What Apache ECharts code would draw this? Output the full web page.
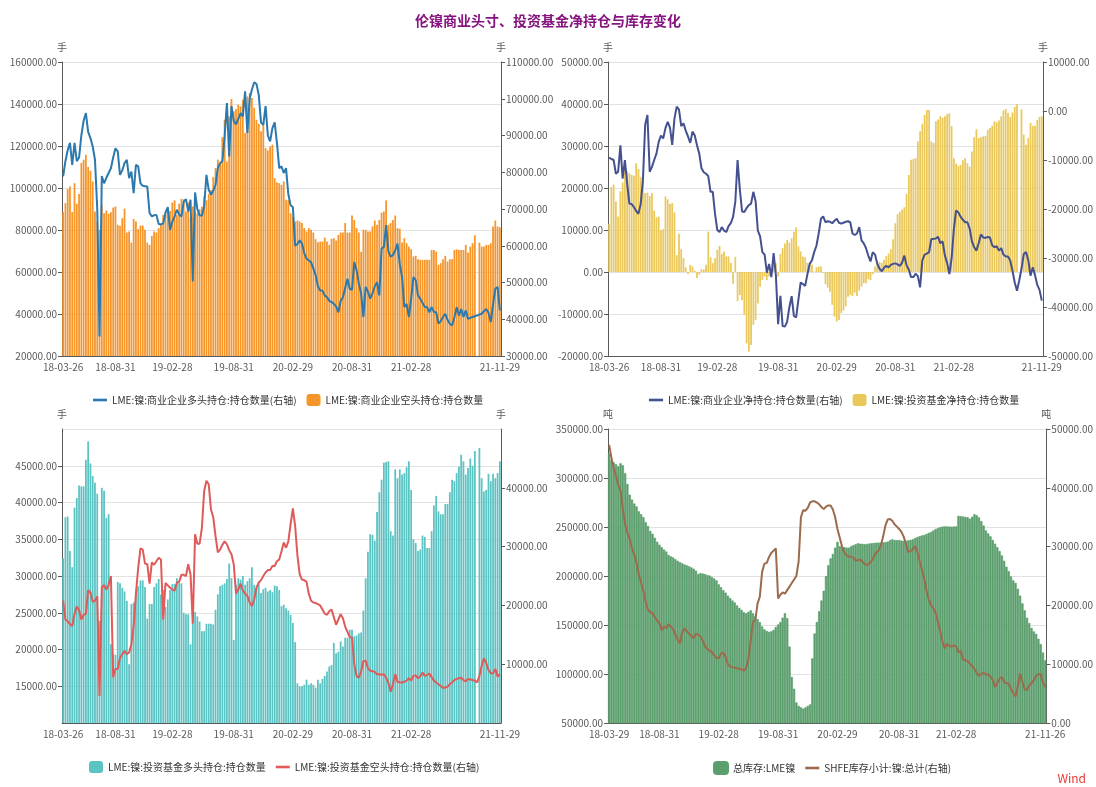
<!DOCTYPE html>
<html lang="zh">
<head>
<meta charset="UTF-8">
<title>伦镍商业头寸、投资基金净持仓与库存变化</title>
<script src="https://cdn.jsdelivr.net/npm/echarts@6/dist/echarts.min.js"></script>
<style>
    html, body { margin: 0; padding: 0; background: #fff; }
    #main { width: 1096px; height: 787px; }
</style>
</head>
<body>
<div id="main"></div>
<script>
    // 周度日期（前三幅图从 2018-03-26 开始，库存图从 2018-03-29 开始）
    function weekly(start, n, last) {
        var out = [], t = Date.parse(start + 'T00:00:00Z');
        for (var i = 0; i < n; i++) {
            out.push(new Date(t + i * 7 * 86400000).toISOString().slice(0, 10));
        }
        if (last) out[n - 1] = last;
        return out;
    }
    var dates = weekly('2018-03-26', 193);
    var stockDates = weekly('2018-03-29', 192, '2021-11-26');

    var tickDates = ['2018-03-26', '2018-08-31', '2019-02-28', '2019-08-31', '2020-02-29', '2020-08-31', '2021-02-28', '2021-11-29'];
    var stockTickDates = ['2018-03-29', '2018-08-31', '2019-02-28', '2019-08-31', '2020-02-29', '2020-08-31', '2021-02-28', '2021-11-26'];

    // 图1 商业企业空头(左轴) / 多头(右轴)
    var commShort = [
        88500, 92800, 99500, 100700, 88500, 102300, 92500, 97200, 111900, 113500,
        115800, 110000, 108200, 103100, 88800, 84000, 80100, 91700, 88000, 89300,
        87700, 88500, 90700, 91200, 82500, 82000, 85600, 90200, 78800, 79300,
        74000, 85200, 84000, 80400, 82100, 82100, 80100, 74000, 72900, 77200,
        79300, 78800, 80900, 82900, 87200, 87200, 89900, 89100, 93100, 94100,
        87200, 92500, 94800, 94600, 88800, 93100, 86000, 91200, 88800, 88000,
        89900, 91200, 96000, 94100, 97200, 99100, 105200, 109500, 113500, 111500,
        124200, 132500, 112600, 134100, 142400, 136500, 137600, 139700, 138900, 142000,
        126200, 143600, 145200, 142800, 138100, 132500, 130600, 127000, 130900, 119000,
        117900, 119800, 120600, 104700, 102600, 102300, 101500, 103100, 94400, 94100,
        88000, 86400, 84000, 84500, 84000, 83300, 80900, 79300, 80900, 80100,
        78800, 75600, 74200, 74500, 74500, 76400, 74500, 72900, 75800, 76100,
        75000, 77700, 78800, 78800, 83300, 78800, 78800, 86900, 84800, 80900,
        78800, 69700, 80100, 80100, 79300, 79300, 81700, 84500, 82500, 84800,
        88300, 88800, 94100, 82500, 83300, 84800, 86900, 80900, 80600, 74000,
        76100, 73700, 72100, 70900, 67400, 67700, 66100, 65800, 65800, 65800,
        65800, 65800, 70500, 70500, 69700, 63400, 64200, 66100, 67700, 65000,
        66100, 66100, 70500, 70800, 70500, 70500, 70500, 72900, 69300, 72100,
        73700, 77500, null, 74000, 72100, 72100, 72900, 72900, 73700, 81700,
        84500, 81700, 81300
    ];
    var commLong = [
        78900, 83000, 86000, 88000, 82000, 88000, 83000, 84000, 90000, 94000,
        96100, 91000, 89300, 87000, 83400, 70000, 35300, 79000, 77000, 78500,
        79800, 81100, 84000, 86500, 85700, 79300, 80500, 82500, 83400, 78400,
        80200, 74300, 82000, 81600, 77000, 76300, 76200, 76100, 68900, 68000,
        68300, 68400, 65900, 65800, 66100, 69000, 70500, 64300, 66500, 68000,
        69800, 68500, 68000, 72000, 72700, 69300, 72500, 50300, 74500, 70000,
        68200, 68200, 70700, 79300, 75200, 73900, 75000, 76600, 81100, 82500,
        83000, 89800, 98800, 84300, 98000, 94000, 93000, 94500, 96100, 95200,
        102000, 90700, 100000, 102500, 104500, 104000, 101000, 93500, 92900, 98000,
        90000, 88400, 92000, 93600, 88000, 81100, 81600, 79800, 81100, 74000,
        71000, 70500, 60000, 60500, 61500, 60600, 58000, 56500, 56000, 55500,
        53800, 52000, 49000, 47800, 47800, 46500, 46000, 45000, 44700, 44200,
        43500, 41900, 45000, 46000, 48500, 51000, 48300, 48000, 55600, 53300,
        49700, 47000, 40600, 48800, 47500, 45600, 47000, 49000, 50100, 46500,
        59200, 59700, 65600, 58500, 57000, 57500, 58700, 60600, 55000, 51500,
        43300, 44200, 40600, 45500, 51500, 50600, 46500, 45600, 44500, 43300,
        43300, 41900, 43300, 42000, 41900, 38800, 39500, 40600, 41500, 39800,
        38800, 38300, 40500, 43300, 41000, 42800, 40600, 42400, 40100, 40400,
        40600, 40800, 41000, 41300, 41500, 42200, 42800, 41800, 39200, 44000,
        48300, 48800, 42400
    ];

    // 图2 投资基金净持仓(左轴) / 商业企业净持仓(右轴)
    var fundNet = [
        11500, 20200, 20800, 16800, 13200, 19200, 21300, 24500, 23900, 23500,
        23100, 22900, 25900, 24500, 22600, 21600, 18800, 18900, 18100, 18800,
        14600, 13000, 13200, 10000, 10200, 18000, 17300, 16200, 16400, 14200,
        4000, 9100, 5400, 3300, 1100, -500, 1700, 1300, 300, -1400,
        -600, 700, 600, 1700, 9600, 3500, 2100, 3300, 5300, 6200,
        4300, 4900, 3700, 3700, 2200, -2800, 3600, -6900, -5500, -6700,
        -10200, -17000, -19000, -17400, -12600, -11400, -7500, -3500, -1900, -1100,
        -1900, -1100, 500, 2600, 2100, -1100, 4300, 5700, 6800, 7600,
        7000, 8000, 9600, 10600, 6100, 4900, 3700, 3500, 2200, 2200,
        1700, 100, 1100, 1300, 1300, -200, -2900, -3700, -4700, -7800,
        -10600, -11800, -11400, -9800, -9200, -8200, -5900, -5500, -5700, -4900,
        -5700, -4400, -3500, -2700, -2700, -1700, -1900, -500, 1300, 2700,
        2400, 2200, 2900, 3800, 4400, 5400, 7800, 11600, 13800, 14300,
        14900, 15400, 18600, 23100, 26700, 26900, 27100, 31100, 33500, 35300,
        37400, 38600, 38600, 31100, 30700, 35900, 36300, 37100, 36700, 37100,
        37600, 37800, 34700, 27100, 25800, 25300, 25500, 26600, 27100, 25900,
        25100, 28700, 32100, 34000, 31900, 32100, 32300, 32400, 33900, 34300,
        34800, 35900, 35600, 36100, 37100, 38500, 38800, 37900, 36900, 38000,
        39300, 40000, null, 38700, 32700, 30300, 31900, 35500, 34800, 34800,
        36200, 36900, 37100
    ];
    var commNet = [
        -9500, -9800, -10000, -12800, -12400, -7000, -13800, -10000, -14800, -18900,
        -19000, -19600, -20400, -21000, -19000, -14100, -2800, -800, -12400, -11400,
        -10000, -8700, -6300, -5000, -5600, -3500, -2200, -3400, -6900, -1500,
        900, 300, -3100, -2500, -4000, -5200, -6500, -4200, -5000, -7000,
        -8700, -11700, -12500, -12800, -13300, -16500, -16500, -21000, -24300, -24700,
        -23700, -24400, -24700, -23500, -22900, -21600, -18500, -10000, -16000, -20500,
        -20600, -19800, -19200, -18900, -16500, -18400, -24400, -25600, -28800, -29300,
        -33000, -31200, -33900, -29000, -33500, -43500, -37700, -43900, -44000, -43000,
        -40000, -37800, -41800, -42100, -38500, -35000, -35300, -35700, -33300, -31200,
        -30500, -28800, -27500, -25000, -22000, -21500, -22700, -22500, -22600, -22900,
        -22400, -22000, -22800, -23000, -22800, -22600, -22500, -22700, -25000, -25300,
        -25000, -23700, -26400, -27000, -28000, -29500, -30700, -28800, -29300, -31200,
        -32200, -32700, -32000, -31600, -31900, -31400, -31200, -31100, -31300, -31600,
        -31000, -29500, -31500, -32400, -33900, -33900, -33200, -33700, -36000, -30500,
        -29300, -29100, -28800, -26100, -26100, -26000, -25700, -27000, -26600, -29500,
        -31000, -33300, -30000, -24000, -20300, -20700, -21600, -22200, -22700, -22700,
        -24000, -26600, -27800, -28500, -27000, -25200, -25800, -25900, -25700, -25800,
        -27400, -27800, -27600, -28500, -28000, -29300, -29700, -29700, -30500, -32600,
        -35000, -36700, -34600, -32200, -29200, -28800, -30400, -33600, -31900, -33500,
        -35500, -36500, -38700
    ];

    // 图3 投资基金多头(左轴) / 空头(右轴)
    var fundLong = [
        32400, 38000, 38100, 33400, 31200, 39300, 40600, 42300, 42200, 42200,
        45800, 48300, 45300, 43600, 42700, 41200, 23900, 42000, 41600, 37900,
        38400, 20700, 19300, 19300, 29200, 29000, 28400, 27900, 26600, 18000,
        26200, 26400, 27900, 28600, 29400, 29400, 28500, 24200, 26200, 26200,
        28500, 29000, 29600, 27500, 28100, 25800, 26800, 28100, 28900, 28900,
        29700, 29100, 29000, 25000, 24800, 24800, 20700, 25300, 25100, 24500,
        23800, 22500, 22500, 23500, 23500, 23500, 23400, 25400, 27500, 28600,
        28800, 29000, 29600, 31700, 29700, 21300, 28800, 29700, 29500, 30000,
        28800, 29300, 29700, 31200, 28800, 28400, 29000, 27700, 28200, 28400,
        27900, 28100, 27800, 28700, 28600, 28100, 25900, 26100, 25600, 25300,
        24700, 23600, 21000, 15400, 15000, 15000, 15200, 15900, 15200, 15400,
        15200, 14800, 15900, 15400, 16000, 16400, 17000, 17700, 17900, 20900,
        19500, 19700, 21100, 20400, 21600, 21600, 22700, 22700, 21800, 21900,
        22200, 22300, 25300, 29700, 33300, 35700, 35600, 34800, 38700, 41400,
        43100, 45400, 45500, 45600, 36100, 35500, 44500, 43300, 44500, 43800,
        44000, 44800, 45600, 41700, 35000, 34500, 33400, 33600, 35500, 35300,
        33800, 33800, 36100, 39600, 40900, 38800, 38400, 38400, 39800, 39800,
        41400, 43100, 42900, 44000, 44900, 46500, 45600, 43800, 44700, 46000,
        45000, 47000, null, 47400, 43300, 41500, 41700, 43900, 42900, 43900,
        43300, 44000, 45600
    ];
    var fundShort = [
        20800, 17600, 17300, 16800, 16500, 18500, 19800, 19200, 17600, 18400,
        18600, 22600, 22200, 20600, 20800, 21500, 4600, 23000, 23500, 22700,
        23500, 25000, 7800, 9200, 9200, 11100, 11700, 12300, 11700, 12000,
        13400, 16500, 22000, 26400, 29700, 29500, 27100, 27000, 23700, 27300,
        26900, 27500, 28100, 27800, 17600, 23800, 23400, 23000, 22700, 22500,
        23900, 24000, 25200, 25200, 25000, 27000, 25300, 16900, 32100, 30500,
        30500, 33200, 39400, 41200, 40600, 36300, 35000, 31800, 29000, 29500,
        30300, 30900, 30400, 29400, 28700, 27000, 22000, 22700, 23700, 22500,
        22000, 21600, 20500, 19900, 21000, 23000, 23900, 24300, 25000, 25600,
        26000, 26000, 26700, 26700, 27500, 27800, 29200, 30700, 29800, 30900,
        33800, 36500, 33500, 28500, 25300, 24400, 24300, 24000, 22000, 20800,
        20500, 20400, 20200, 20000, 19300, 18600, 18400, 19000, 19300, 18000,
        16700, 17600, 18500, 17800, 16400, 15500, 14600, 14500, 10000, 8000,
        7700, 8800, 10500, 10600, 9300, 8900, 8800, 8700, 8300, 8300,
        8200, 8300, 7700, 6800, 5300, 6600, 8300, 7000, 6900, 6900,
        7000, 7200, 7600, 7200, 8000, 8100, 7600, 7900, 8600, 8000,
        8200, 8400, 7800, 7200, 6900, 6600, 6300, 6000, 6000, 6200,
        6600, 6900, 7300, 7500, 7600, 7700, 7300, 7100, 7500, 7400,
        7300, 7200, 6900, 8000, 9700, 11000, 10200, 9000, 8500, 8400,
        9200, 7900, 8300
    ];

    // 图4 LME 总库存(左轴, 吨) / SHFE 库存小计(右轴, 吨)
    var lmeStock = [
        325000, 318000, 316000, 314000, 312000, 315000, 313000, 305000, 294000, 283000,
        278000, 274000, 271000, 266000, 263000, 260000, 255000, 251000, 246000, 243000,
        239000, 235000, 232000, 229500, 227000, 225000, 221500, 220000, 219000, 217200,
        215500, 214200, 213000, 211800, 211000, 209900, 208800, 207500, 205500, 202000,
        203000, 202500, 202000, 201000, 200500, 199000, 197500, 195500, 191500, 188500,
        185500, 183000, 180000, 177500, 175000, 173000, 170000, 167500, 165500, 163000,
        162000, 163500, 165000, 162000, 159000, 156000, 153000, 148500, 145500, 144000,
        143000, 143500, 145000, 148000, 150500, 153000, 157500, 162000, 157000, 128000,
        97000, 85000, 71000, 67500, 66000, 64700, 66000, 67500, 69000, 116000,
        141400, 153000, 164000, 175000, 185000, 200000, 211000, 218000, 222500, 229000,
        235000, 230500, 230000, 229500, 229000, 229000, 230500, 231500, 232500, 233400,
        233000, 232800, 232500, 232800, 233200, 233500, 233800, 234000, 234100, 234100,
        234300, 234600, 235100, 236500, 237500, 236800, 236500, 236800, 236200, 235800,
        236000, 236500, 236800, 237600, 238800, 239800, 240600, 241400, 241900, 243000,
        244000, 245000, 246500, 248000, 249000, 249800, 250500, 250600, 250500, 250500,
        250300, 250500, 250600, 261400, 261000, 260800, 260300, 260000, 258500, 260500,
        263000, 262000, 259800, 256000, 251500, 246500, 243500, 240500, 236800, 233000,
        229500, 225500, 221000, 215500, 209500, 205000, 199500, 195500, 193000, 187000,
        180000, 172100, 165000, 157500, 152000, 147000, 143500, 141000, 136000, 130500,
        122000, 114000
    ];
    var shfeStock = [
        47300, 45100, 43300, 42000, 40500, 39500, 36300, 33800, 32300, 31300,
        29700, 28600, 27200, 25200, 23800, 22500, 20500, 19300, 18800, 18700,
        18000, 17400, 17000, 15800, 16400, 16100, 16800, 16400, 16000, 15000,
        14200, 13500, 15400, 16100, 15600, 15200, 14800, 14400, 15200, 15000,
        14700, 14000, 13000, 12600, 12300, 12100, 11500, 11100, 11000, 11800,
        12000, 11200, 10000, 9600, 9500, 9400, 9300, 9200, 9100, 8900,
        9300, 10800, 14000, 17200, 17400, 20300, 21500, 25700, 27100, 27200,
        28200, 28900, 29300, 29700, 21200, 21800, 22200, 22000, 22600, 23200,
        23800, 24400, 25000, 27500, 35000, 36200, 36100, 36600, 37500, 37700,
        37700, 37500, 37200, 36700, 36400, 36800, 37000, 37000, 36300, 35000,
        33000, 31500, 30000, 29000, 28500, 28300, 28300, 28100, 27600, 27700,
        27800, 27400, 27000, 26900, 27100, 27600, 28300, 29000, 29300, 30200,
        31700, 33600, 34600, 34700, 34400, 33800, 33400, 33000, 32500, 31700,
        30400, 29100, 29200, 29500, 30100, 29100, 27500, 26000, 24500, 22500,
        21000, 20000, 19500, 18700, 17200, 15600, 13800, 12700, 13500, 13100,
        13000, 13200, 13000, 12000, 12300, 10800, 10700, 10500, 10100, 9700,
        9200, 8500, 8000, 8400, 8500, 8300, 8200, 7900, 7300, 6100,
        6800, 7600, 7800, 7000, 6800, 6700, 5800, 5100, 4500, 6300,
        8400, 7000, 5800, 5600, 6400, 6800, 7300, 8000, 8300, 8300,
        6900, 6100
    ];

    var FONT = '"Noto Sans CJK SC", "Noto Sans", sans-serif';
    var AXIS = '#595959';
    var LINE_ICON = 'path://M0,0 L16,0 L16,3 L0,3 Z';

    function nearest(cats, d) {
        var t = Date.parse(d), best = 0, bd = Infinity;
        for (var i = 0; i < cats.length; i++) {
            var dd = Math.abs(Date.parse(cats[i]) - t);
            if (dd < bd) { bd = dd; best = i; }
        }
        return best;
    }

    // 每个月末附近的那一周打一个刻度
    function monthTicks(cats) {
        var set = {}, first = new Date(cats[0] + 'T00:00:00Z'), last = Date.parse(cats[cats.length - 1]);
        var y = first.getUTCFullYear(), m = first.getUTCMonth();
        while (true) {
            var end = new Date(Date.UTC(y, m + 1, 0));
            if (end.getTime() > last + 3 * 86400000) break;
            set[nearest(cats, end.toISOString().slice(0, 10))] = true;
            m++;
        }
        return set;
    }

    function makeX(grid, cats, ticks) {
        var lab = {};
        ticks.forEach(function (d) { lab[nearest(cats, d)] = d.slice(2); });
        var tk = monthTicks(cats);
        return {
            type: 'category', gridIndex: grid, data: cats, boundaryGap: true,
            axisLine: { onZero: false, lineStyle: { color: AXIS } },
            axisTick: {
                alignWithLabel: true, length: 4, lineStyle: { color: AXIS },
                interval: function (i) { return lab[i] !== undefined || tk[i] === true; }
            },
            axisLabel: {
                interval: function (i) { return lab[i] !== undefined; },
                formatter: function (v, i) { return lab[i] || ''; },
                color: AXIS, fontSize: 10, margin: 6, fontFamily: FONT
            },
            splitLine: { show: false }
        };
    }

    function makeY(grid, pos, min, max, step, name, split, hideEnds) {
        return {
            type: 'value', gridIndex: grid, position: pos,
            min: min, max: max, interval: step,
            name: name, nameLocation: 'end', nameGap: 10,
            nameTextStyle: { color: AXIS, fontSize: 10, fontFamily: FONT },
            axisLine: { show: true, lineStyle: { color: AXIS } },
            axisTick: { show: true, length: 4, lineStyle: { color: AXIS } },
            axisLabel: {
                color: AXIS, fontSize: 10, margin: 5, fontFamily: FONT,
                showMinLabel: !hideEnds, showMaxLabel: !hideEnds,
                formatter: function (v) { return v.toFixed(2); }
            },
            splitLine: { show: split, lineStyle: { color: '#e2e2e2' } }
        };
    }

    function legend(left, top, items) {
        return {
            left: left, top: top, itemWidth: 14, itemHeight: 12, itemGap: 10,
            textStyle: { color: '#333', fontSize: 10, fontFamily: FONT },
            data: items.map(function (it) {
                return it.line ? { name: it.name, icon: LINE_ICON } : { name: it.name, icon: 'roundRect' };
            })
        };
    }

    var names = {
        commLong: 'LME:镍:商业企业多头持仓:持仓数量(右轴)',
        commShort: 'LME:镍:商业企业空头持仓:持仓数量',
        commNet: 'LME:镍:商业企业净持仓:持仓数量(右轴)',
        fundNet: 'LME:镍:投资基金净持仓:持仓数量',
        fundLong: 'LME:镍:投资基金多头持仓:持仓数量',
        fundShort: 'LME:镍:投资基金空头持仓:持仓数量(右轴)',
        lme: '总库存:LME镍',
        shfe: 'SHFE库存小计:镍:总计(右轴)'
    };

    function bar(name, x, y, data, color, gap, solid) {
        var style = { color: color };
        if (solid) { style.borderColor = color; style.borderWidth = 0.6; }
        return { type: 'bar', name: name, xAxisIndex: x, yAxisIndex: y, data: data,
            barCategoryGap: gap, itemStyle: style };
    }
    function line(name, x, y, data, color) {
        return { type: 'line', name: name, xAxisIndex: x, yAxisIndex: y, data: data,
            symbol: 'none', smooth: false, lineStyle: { color: color, width: 2 },
            itemStyle: { color: color } };
    }

    var myChart = echarts.init(document.getElementById('main'));
    var option = {
        animation: false,
        backgroundColor: '#fff',
        textStyle: { fontFamily: FONT },
        title: {
            text: '伦镍商业头寸、投资基金净持仓与库存变化',
            left: 'center', top: 9,
            textStyle: { color: '#86147f', fontSize: 14, fontWeight: 'bold', fontFamily: FONT }
        },
        grid: [
            { left: 62, right: 595, top: 62, bottom: 431 },
            { left: 608, right: 48, top: 62, bottom: 431 },
            { left: 62, right: 595, top: 429, bottom: 64 },
            { left: 608, right: 48, top: 429, bottom: 64 }
        ],
        legend: [
            legend(88, 389, [{ name: names.commLong, line: true }, { name: names.commShort }]),
            legend(644, 389, [{ name: names.commNet, line: true }, { name: names.fundNet }]),
            legend(84, 756, [{ name: names.fundLong }, { name: names.fundShort, line: true }]),
            legend(708, 756, [{ name: names.lme }, { name: names.shfe, line: true }])
        ],
        xAxis: [
            makeX(0, dates, tickDates),
            makeX(1, dates, tickDates),
            makeX(2, dates, tickDates),
            makeX(3, stockDates, stockTickDates)
        ],
        yAxis: [
            makeY(0, 'left', 20000, 160000, 20000, '手', true, false),
            makeY(0, 'right', 30000, 110000, 10000, '手', false, false),
            makeY(1, 'left', -20000, 50000, 10000, '手', true, false),
            makeY(1, 'right', -50000, 10000, 10000, '手', false, false),
            makeY(2, 'left', 10000, 50000, 5000, '手', true, true),
            makeY(2, 'right', 0, 50000, 10000, '手', false, true),
            makeY(3, 'left', 50000, 350000, 50000, '吨', true, false),
            makeY(3, 'right', 0, 50000, 10000, '吨', false, false)
        ],
        series: [
            bar(names.commShort, 0, 0, commShort, '#f5952a', '22%'),
            line(names.commLong, 0, 1, commLong, '#2b79ad'),
            bar(names.fundNet, 1, 2, fundNet, '#eac85c', '22%'),
            line(names.commNet, 1, 3, commNet, '#45518f'),
            bar(names.fundLong, 2, 4, fundLong, '#5cc3c3', '22%'),
            line(names.fundShort, 2, 5, fundShort, '#e05a5a'),
            bar(names.lme, 3, 6, lmeStock, '#5c9f6e', '0%', true),
            line(names.shfe, 3, 7, shfeStock, '#9c6b4c')
        ],
        graphic: [{
            type: 'text', right: 10, bottom: 3,
            style: { text: 'Wind', fill: '#e8392f', fontSize: 12, fontFamily: FONT }
        }]
    };
    myChart.setOption(option);
</script>
</body>
</html>
